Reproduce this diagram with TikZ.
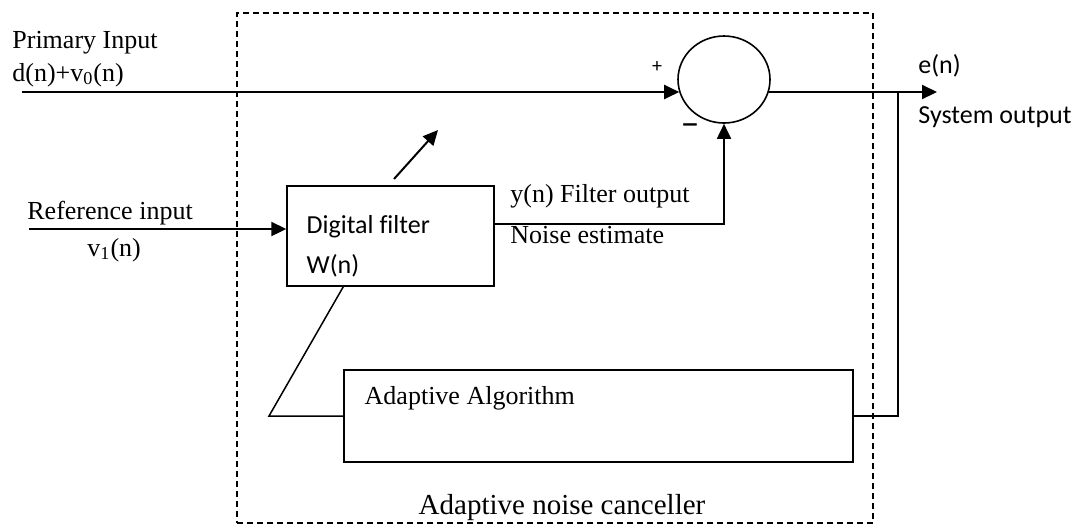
\documentclass[tikz,border=0pt]{standalone}
\usepackage{fontspec}
\setmainfont{Liberation Serif}
\newfontfamily\calibri[Ligatures=NoCommon]{Carlito}
\usetikzlibrary{positioning, arrows.meta, shapes.geometric, calc}

\begin{document}
\begin{tikzpicture}[
    x=0.5pt, y=-0.5pt,
    block/.style={rectangle, draw=black, line width=0.7pt, inner sep=0pt},
    serif/.style={font=\fontsize{13}{15}\selectfont, inner sep=0pt},
    sans/.style={font=\calibri\fontsize{13}{15}\selectfont, inner sep=0pt},
    sig/.style={-{Triangle[length=7.5pt, width=7pt]}, line width=1pt},
    wire/.style={line width=0.75pt}
]
\useasboundingbox (0,0) rectangle (1080,527);

% Blocks
\node[block, dash pattern=on 3pt off 2pt, line width=0.7pt,
      minimum width=318pt, minimum height=255pt] (anc) at (555,268) {};
\node[block, minimum width=103.5pt, minimum height=50pt] (filter) at (390.5,236) {};
\node[block, minimum width=254.5pt, minimum height=46pt] (adapt) at (598.5,416) {};
\node[ellipse, draw=black, line width=0.8pt, minimum width=46pt,
      minimum height=43.5pt, inner sep=0pt] (sum) at (724,79.5) {};

% Labels
\node[serif, anchor=base west] (pinlbl) at (12,48) {Primary Input};
\node[serif, anchor=base west] (pinsig) at (12,81) {d(n)+v\textsubscript{0}(n)};
\node[serif, anchor=base west] (rinlbl) at (27,219) {Reference input};
\node[serif, anchor=base west] (rinsig) at (87,256) {v\textsubscript{1}(n)};
\node[sans, anchor=base west] (filtname) at ($(filter.north west)+(20,48)$) {Digital filter};
\node[sans, anchor=base west] (filtw) at ($(filter.north west)+(20,88)$) {W(n)};
\node[serif, anchor=base west] (yout) at (510,202) {y(n) Filter output};
\node[serif, anchor=base west] (nest) at (510,243) {Noise estimate};
\node[sans, anchor=base west] (elbl) at (918,73) {e(n)};
\node[sans, anchor=base west] (sysout) at (918,123) {System output};
\node[serif, anchor=base west] (alglbl) at ($(adapt.north west)+(21,35)$) {Adaptive Algorithm};
\node[serif, font=\fontsize{14.5}{17}\selectfont, anchor=base] (anclbl) at (562,514) {Adaptive noise canceller};
\node[sans, font=\calibri\fontsize{10}{12}\selectfont] (plus) at (657,67) {+};
\node[sans, font=\calibri\fontsize{19}{21}\selectfont] (minus) at (690,130) {\textendash};

% Connectors
\coordinate (pin) at (22,92);
\coordinate (rin) at (29,229);
\coordinate (eout) at (937,92);
\coordinate (tap) at (898,92);
\coordinate (fb) at (269,416);
\coordinate (adjtail) at (394,179);
\coordinate (adjhead) at (438,130);

\draw[sig] (pin) -- (pin -| sum.196);
\draw[sig] (sum.-16 |- pin) -- (eout);
\draw[wire] (tap) |- (adapt.east);
\draw[sig, line width=0.9pt] ($(filter.east)+(0,-12)$) -| (sum.south);
\draw[sig] (rin) -- (rin -| filter.west);
\draw[wire] ($(filter.south west)+(57,0)$) -- (fb) -- (adapt.west);
\draw[sig] (adjtail) -- (adjhead);

\end{tikzpicture}
\end{document}
